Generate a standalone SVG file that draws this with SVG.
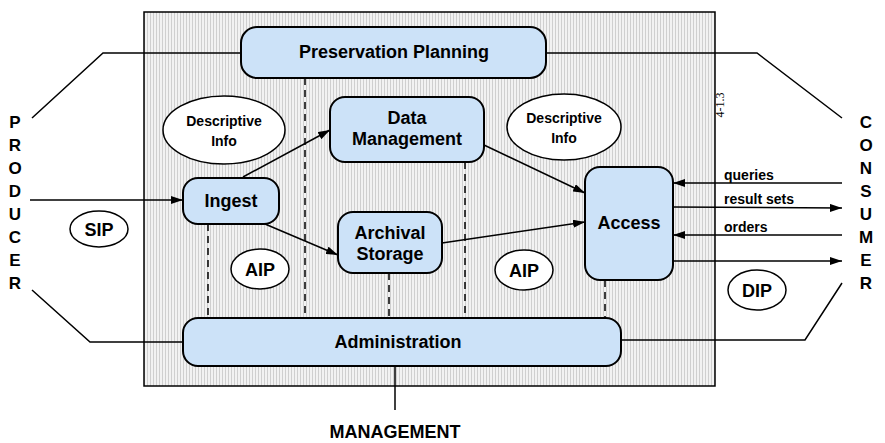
<svg xmlns="http://www.w3.org/2000/svg" width="885" height="443" viewBox="0 0 885 443">
<defs>
<pattern id="dots" width="3" height="3" patternUnits="userSpaceOnUse"><rect width="3" height="3" fill="#f2f2f2"/><rect width="1" height="3" fill="#cfcfcf"/></pattern>
<marker id="ah" viewBox="0 0 12 8" refX="12" refY="4" markerWidth="12" markerHeight="8" markerUnits="userSpaceOnUse" orient="auto"><path d="M0,0 L12,4 L0,8 z" fill="#000"/></marker>
</defs>
<style>
.box{fill:#cce2f8;stroke:#000;stroke-width:2}
.ell{fill:#fff;stroke:#000;stroke-width:1.5}
text{font-family:"Liberation Sans",Arial,sans-serif;font-weight:bold;text-anchor:middle;fill:#000}
.big{font-size:18px}
.sm{font-size:14px}
.lab{font-size:14px;text-anchor:start}
.letter{font-size:17px}
.ln{stroke:#000;stroke-width:1.5;fill:none}
.arr{stroke:#000;stroke-width:1.5;fill:none;marker-end:url(#ah)}
.dash{stroke:#000;stroke-width:1.5;stroke-dasharray:7,5;fill:none}
</style>
<rect x="144" y="12" width="571" height="374" fill="url(#dots)" stroke="#000" stroke-width="1.5"/>
<text x="724" y="105" transform="rotate(-90 724 105)" style="font-family:'Liberation Serif',serif;font-weight:normal;font-size:12px">4-1.3</text>
<g id="connectors">
<path class="ln" d="M32,118 L103,53 L241,53"/>
<path class="ln" d="M32,290 L90,342 L183,342"/>
<path class="ln" d="M546,53 L757,53 L842,118"/>
<path class="ln" d="M621,340 L805,340 L842,283"/>
<path class="arr" d="M30,200 L183,200"/>
<path class="ln" d="M395,366 L395,410"/>
<path class="arr" d="M243,177 L330,130"/>
<path class="arr" d="M265,224 L338,255"/>
<path class="arr" d="M484,145 L585,193"/>
<path class="arr" d="M442,243 L585,222"/>
<path class="arr" d="M842,183 L673,183"/>
<path class="arr" d="M673,207 L842,208"/>
<path class="arr" d="M842,235 L673,235"/>
<path class="arr" d="M673,261 L842,261"/>
<path class="dash" d="M208,224 V318 M305,78 V318 M465,162 V318 M389,273 V318 M605,280 V318"/>
<text class="lab" x="724" y="180">queries</text>
<text class="lab" x="724" y="204">result sets</text>
<text class="lab" x="724" y="232">orders</text>
</g>
<g id="preservation-planning"><rect class="box" x="241" y="27" width="305" height="51" rx="16"/><text class="big" x="394" y="58">Preservation Planning</text></g>
<g id="ingest"><rect class="box" x="183" y="178" width="96" height="46" rx="15"/><text class="big" x="231" y="207">Ingest</text></g>
<g id="data-management"><rect class="box" x="330" y="97" width="154" height="65" rx="15"/><text class="big" x="407" y="124">Data</text><text class="big" x="407" y="145">Management</text></g>
<g id="archival-storage"><rect class="box" x="338" y="212" width="104" height="61" rx="15"/><text class="big" x="390" y="239">Archival</text><text class="big" x="390" y="260">Storage</text></g>
<g id="access"><rect class="box" x="585" y="167" width="88" height="113" rx="15"/><text class="big" x="629" y="229">Access</text></g>
<g id="administration"><rect class="box" x="183" y="318" width="438" height="48" rx="15"/><text class="big" x="398" y="348">Administration</text></g>
<g id="desc-info-left"><ellipse class="ell" cx="224" cy="130" rx="61" ry="34"/><text class="sm" x="224" y="126">Descriptive</text><text class="sm" x="224" y="146">Info</text></g>
<g id="desc-info-right"><ellipse class="ell" cx="564" cy="127" rx="57" ry="33"/><text class="sm" x="564" y="123">Descriptive</text><text class="sm" x="564" y="143">Info</text></g>
<g id="sip"><ellipse class="ell" cx="99" cy="229" rx="29" ry="18"/><text class="big" x="99" y="236">SIP</text></g>
<g id="aip1"><ellipse class="ell" cx="260" cy="269" rx="29" ry="20"/><text class="big" x="260" y="276">AIP</text></g>
<g id="aip2"><ellipse class="ell" cx="524" cy="270" rx="29" ry="20"/><text class="big" x="524" y="277">AIP</text></g>
<g id="dip"><ellipse class="ell" cx="757" cy="290" rx="29" ry="20"/><text class="big" x="757" y="297">DIP</text></g>
<g id="producer">
<text class="letter" x="15" y="128">P</text><text class="letter" x="15" y="151">R</text><text class="letter" x="15" y="174">O</text><text class="letter" x="15" y="197">D</text><text class="letter" x="15" y="220">U</text><text class="letter" x="15" y="243">C</text><text class="letter" x="15" y="266">E</text><text class="letter" x="15" y="289">R</text>
</g>
<g id="consumer">
<text class="letter" x="866" y="128">C</text><text class="letter" x="866" y="151">O</text><text class="letter" x="866" y="174">N</text><text class="letter" x="866" y="197">S</text><text class="letter" x="866" y="220">U</text><text class="letter" x="866" y="243">M</text><text class="letter" x="866" y="266">E</text><text class="letter" x="866" y="289">R</text>
</g>
<g id="management"><text class="big" x="395" y="438">MANAGEMENT</text></g>
</svg>
